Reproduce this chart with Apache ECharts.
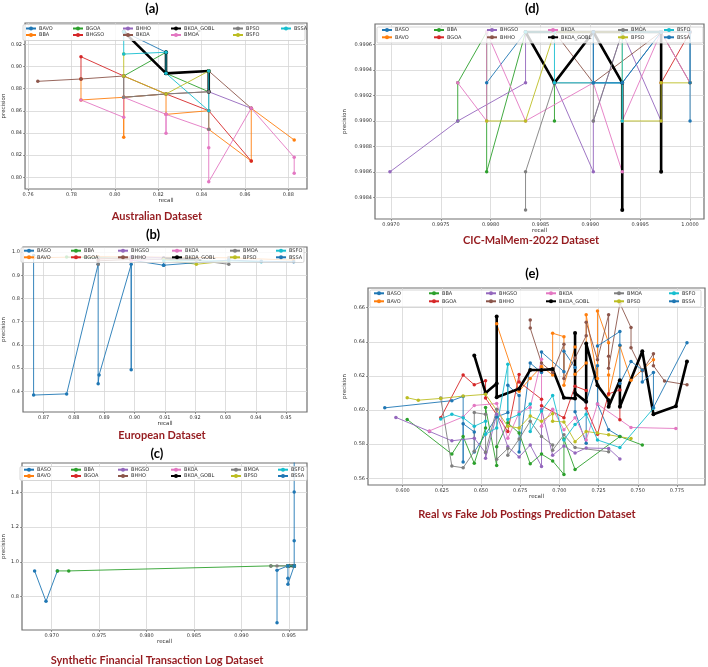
<!DOCTYPE html>
<html>
<head>
<meta charset="utf-8">
<script src="https://cdn.jsdelivr.net/npm/echarts@6.0.0/dist/echarts.min.js"></script>
<style>
html, body { margin: 0; padding: 0; background: #fff; }
#main { width: 708px; height: 667px; }
</style>
</head>
<body>
<div id="main"></div>
<script>
// legend names, in the order the lines were plotted
var namesA = ['BAVO', 'BBA', 'BGOA', 'BHGSO', 'BHHO', 'BKOA', 'BKOA_GOBL', 'BMOA', 'BPSO', 'BSFO', 'BSSA'];
var namesB = ['BASO', 'BAVO', 'BBA', 'BGOA', 'BHGSO', 'BHHO', 'BKOA', 'BKOA_GOBL', 'BMOA', 'BPSO', 'BSFO', 'BSSA'];

// tick labels
var ticksAX = [0.76, 0.78, 0.80, 0.82, 0.84, 0.86, 0.88];
var ticksAY = [0.80, 0.82, 0.84, 0.86, 0.88, 0.90, 0.92];
var ticksBX = [0.87, 0.88, 0.89, 0.90, 0.91, 0.92, 0.93, 0.94, 0.95];
var ticksBY = [0.4, 0.5, 0.6, 0.7, 0.8, 0.9, 1.0];
var ticksCX = [0.970, 0.975, 0.980, 0.985, 0.990, 0.995];
var ticksCY = [0.8, 1.0, 1.2, 1.4];
var ticksDX = [0.9970, 0.9975, 0.9980, 0.9985, 0.9990, 0.9995, 1.0000];
var ticksDY = [0.9984, 0.9986, 0.9988, 0.9990, 0.9992, 0.9994, 0.9996];
var ticksEX = [0.600, 0.625, 0.650, 0.675, 0.700, 0.725, 0.750, 0.775];
var ticksEY = [0.56, 0.58, 0.60, 0.62, 0.64, 0.66];

// (a) Australian  [recall, precision]
var ausBAVO = [[0.8041, 0.9314], [0.8236, 0.9128], [0.8236, 0.8938]];
var ausBBA = [[0.7844, 0.8887], [0.7844, 0.8698], [0.8041, 0.8722], [0.8041, 0.8361], [0.8041, 0.8722], [0.8236, 0.8752], [0.8236, 0.8568], [0.8433, 0.8601], [0.8433, 0.8433], [0.8629, 0.8147], [0.8629, 0.8623], [0.8827, 0.8337]];
var ausBGOA = [[0.8041, 0.8914], [0.8236, 0.9128], [0.8236, 0.8938], [0.8433, 0.8772]];
var ausBHGSO = [[0.7844, 0.8887], [0.7844, 0.9088], [0.8041, 0.8914], [0.8236, 0.8752], [0.8433, 0.8601], [0.8629, 0.8147]];
var ausBHHO = [[0.8433, 0.8772], [0.8629, 0.8623]];
var ausBKOA = [[0.7645, 0.8866], [0.7844, 0.8887], [0.8041, 0.8914], [0.8041, 0.8722], [0.8236, 0.8752], [0.8433, 0.8772], [0.8433, 0.8959], [0.8629, 0.8623]];
var ausBKOA_GOBL = [[0.8041, 0.9314], [0.8236, 0.8938], [0.8236, 0.9128], [0.8236, 0.8938], [0.8433, 0.8959], [0.8433, 0.8772]];
var ausBMOA = [[0.7844, 0.8698], [0.8041, 0.8541], [0.8041, 0.8722], [0.8236, 0.8568], [0.8236, 0.8397], [0.8236, 0.8568], [0.8433, 0.8433], [0.8433, 0.8267], [0.8433, 0.796], [0.8629, 0.8623], [0.8827, 0.8181], [0.8827, 0.8036]];
var ausBPSO = [[0.8041, 0.8914], [0.8041, 0.8722], [0.8236, 0.8752], [0.8433, 0.8772], [0.8433, 0.8433]];
var ausBSFO = [[0.8041, 0.9112], [0.8041, 0.8914], [0.8236, 0.8752], [0.8433, 0.8959]];
var ausBSSA = [[0.8041, 0.9314], [0.8041, 0.9112], [0.8236, 0.9128], [0.8236, 0.8938], [0.8433, 0.8601], [0.8433, 0.8959]];

// (b) European
var eurBASO = [[0.8667, 0.985], [0.8667, 0.384], [0.8776, 0.389], [0.888, 0.947], [0.888, 0.433], [0.8883, 0.47], [0.8989, 0.947], [0.8989, 0.493], [0.8989, 0.965], [0.9096, 0.943], [0.9096, 0.97]];
var eurBAVO = [[0.8667, 0.975], [0.888, 0.98], [0.9311, 0.975], [0.9525, 0.965]];
var eurBBA = [[0.8776, 0.978], [0.888, 0.975], [0.8989, 0.972]];
var eurBGOA = [[0.888, 0.97], [0.8989, 0.975]];
var eurBHGSO = [[0.8989, 0.98], [0.9096, 0.975]];
var eurBHHO = [[0.888, 0.962], [0.8989, 0.968]];
var eurBKOA = [[0.8989, 0.963], [0.9096, 0.97]];
var eurBKOA_GOBL = [[0.9096, 0.972], [0.9204, 0.968]];
var eurBMOA = [[0.888, 0.947], [0.888, 0.975], [0.9204, 0.965], [0.9311, 0.947], [0.9311, 0.975]];
var eurBPSO = [[0.9096, 0.968], [0.9204, 0.947], [0.9311, 0.962]];
var eurBSFO = [[0.9096, 0.962], [0.9311, 0.962], [0.9418, 0.958]];
var eurBSSA = [[0.9096, 0.943], [0.9311, 0.965], [0.9418, 0.96], [0.9525, 0.958]];

// (c) Synthetic Financial Transaction Log
var synBASO = [[0.9682, 0.948], [0.9694, 0.773], [0.9706, 0.948]];
var synBAVO = [[0.9949, 0.977], [0.99556, 0.977]];
var synBBA = [[0.9706, 0.948], [0.9718, 0.948], [0.9931, 0.977], [0.9949, 0.977]];
var synBGOA = [[0.9949, 0.977], [0.99556, 0.977]];
var synBHGSO = [[0.9949, 0.977], [0.99556, 0.977]];
var synBHHO = [[0.9949, 0.977], [0.99556, 0.977]];
var synBKOA = [[0.9949, 0.977], [0.99556, 0.977]];
var synBKOA_GOBL = [[0.9949, 0.977], [0.99556, 0.977]];
var synBMOA = [[0.9931, 0.977], [0.99375, 0.977], [0.9949, 0.977]];
var synBPSO = [[0.9949, 0.977], [0.99556, 0.977]];
var synBSFO = [[0.9949, 0.977], [0.99556, 0.977]];
var synBSSA = [[0.99375, 0.65], [0.99375, 0.952], [0.9949, 0.977], [0.9949, 0.906], [0.9949, 0.871], [0.99556, 0.977], [0.99556, 1.121], [0.99556, 1.402], [0.99556, 1.62]];

// (d) CIC-MalMem-2022
var cicBASO = [[0.99796, 0.9993], [0.99835, 0.9997], [0.99903, 0.9997], [0.99903, 0.9993], [0.99932, 0.9993], [0.99971, 0.9997], [1.0, 0.9997], [1.0, 0.9990]];
var cicBAVO = [[0.99932, 0.9997], [1.0, 0.9997]];
var cicBBA = [[0.99767, 0.9990], [0.99767, 0.9993], [0.99796, 0.9997], [0.99796, 0.9986], [0.99835, 0.9997], [0.99864, 0.9993], [0.99864, 0.9990]];
var cicBGOA = [[0.99971, 0.9993], [1.0, 0.9997]];
var cicBHGSO = [[0.99699, 0.9986], [0.99767, 0.9990], [0.99835, 0.9993], [0.99835, 0.9997], [0.99864, 0.9993], [0.99903, 0.9986], [0.99903, 0.9990], [0.99932, 0.9997], [0.99971, 0.9990]];
var cicBHHO = [[0.99864, 0.9997], [0.99903, 0.9993], [0.99971, 0.9997], [1.0, 0.9993]];
var cicBKOA = [[0.99767, 0.9993], [0.99796, 0.9990], [0.99796, 0.9997], [0.99835, 0.9990], [0.99903, 0.9993], [0.99932, 0.9986], [0.99932, 0.9990], [0.99971, 0.9997], [1.0, 0.9993]];
var cicBKOA_GOBL = [[0.99971, 0.9986], [0.99971, 0.9997], [0.99835, 0.9997], [0.99864, 0.9993], [0.99903, 0.9997], [0.99932, 0.9993], [0.99932, 0.9983]];
var cicBMOA = [[0.99835, 0.9983], [0.99835, 0.9986], [0.99864, 0.9993], [0.99903, 0.9993], [0.99903, 0.9990], [0.99932, 0.9997], [0.99971, 0.9997]];
var cicBPSO = [[0.99796, 0.9990], [0.99835, 0.9990], [0.99864, 0.9997], [0.99932, 0.9997], [0.99932, 0.9990], [0.99971, 0.9990], [0.99971, 0.9993], [1.0, 0.9993]];
var cicBSFO = [[0.99835, 0.9997], [0.99864, 0.9997], [0.99864, 0.9993], [0.99903, 0.9993], [0.99932, 0.9993], [0.99932, 0.9990], [0.99932, 0.9997], [0.99971, 0.9997]];
var cicBSSA = [[0.99903, 0.9997], [0.99903, 0.9993], [0.99932, 0.9993], [0.99971, 0.9997], [1.0, 0.9997], [1.0, 0.9993]];

// (e) Real vs Fake Job Postings
var jobBASO = [[0.5886, 0.6013], [0.6314, 0.6055], [0.6386, 0.608], [0.6386, 0.5695], [0.6386, 0.592], [0.6457, 0.5872], [0.6457, 0.5755], [0.66, 0.596], [0.6671, 0.5985], [0.6671, 0.6145], [0.6743, 0.6085], [0.6743, 0.5755], [0.6814, 0.6275], [0.6886, 0.622], [0.6886, 0.634], [0.7029, 0.6225], [0.7029, 0.6345], [0.71, 0.625], [0.71, 0.599], [0.7171, 0.5805], [0.7171, 0.605], [0.7243, 0.626], [0.7243, 0.6035], [0.7314, 0.5885], [0.7386, 0.5845]];
var jobBAVO = [[0.66, 0.6505], [0.6743, 0.611], [0.6814, 0.6185], [0.6886, 0.6255], [0.6957, 0.6205], [0.6957, 0.645], [0.7029, 0.643], [0.7029, 0.6145], [0.71, 0.637], [0.71, 0.621], [0.7171, 0.6275], [0.7171, 0.6558], [0.7243, 0.6185], [0.7243, 0.658], [0.7314, 0.6395], [0.7314, 0.6205], [0.7314, 0.609], [0.7386, 0.6375], [0.7457, 0.6175], [0.7529, 0.6235], [0.76, 0.6295]];
var jobBBA = [[0.6029, 0.5945], [0.6314, 0.5742], [0.6386, 0.5845], [0.6457, 0.5688], [0.6529, 0.5895], [0.6529, 0.6015], [0.66, 0.5675], [0.66, 0.5785], [0.6671, 0.5925], [0.6743, 0.5865], [0.6814, 0.5685], [0.6886, 0.5742], [0.6957, 0.5702], [0.7029, 0.5623], [0.7029, 0.583], [0.71, 0.5652], [0.7386, 0.5845], [0.7529, 0.5795]];
var jobBGOA = [[0.6243, 0.5955], [0.6386, 0.6205], [0.6457, 0.6148], [0.6529, 0.6172], [0.6529, 0.607], [0.6671, 0.5875], [0.6743, 0.6208], [0.6743, 0.6165], [0.6886, 0.6063], [0.6886, 0.6025], [0.7029, 0.5955], [0.71, 0.614], [0.7171, 0.6115], [0.7171, 0.601], [0.7243, 0.5858], [0.7314, 0.6095], [0.7386, 0.6118], [0.7386, 0.5943]];
var jobBHGSO = [[0.5957, 0.5957], [0.6171, 0.5875], [0.6314, 0.582], [0.6457, 0.5835], [0.6529, 0.575], [0.6529, 0.5718], [0.66, 0.5975], [0.6671, 0.5785], [0.6743, 0.5725], [0.6814, 0.5795], [0.6886, 0.567], [0.6886, 0.6005], [0.6957, 0.5735], [0.7029, 0.579], [0.71, 0.5748], [0.7171, 0.5778], [0.7314, 0.5775], [0.7386, 0.5714]];
var jobBHHO = [[0.6814, 0.6528], [0.6814, 0.648], [0.6886, 0.6275], [0.6957, 0.622], [0.7029, 0.6385], [0.7029, 0.6185], [0.71, 0.6305], [0.7171, 0.6435], [0.7171, 0.6515], [0.7243, 0.6295], [0.7314, 0.6558], [0.7314, 0.6315], [0.7314, 0.6245], [0.7386, 0.6625], [0.7457, 0.6483], [0.7457, 0.6365], [0.7529, 0.623], [0.76, 0.633], [0.76, 0.626], [0.7671, 0.617], [0.7814, 0.6148]];
var jobBKOA = [[0.6171, 0.5878], [0.6386, 0.596], [0.6457, 0.6027], [0.66, 0.6038], [0.6671, 0.5835], [0.6743, 0.5985], [0.6814, 0.6015], [0.6886, 0.6298], [0.6886, 0.5905], [0.6957, 0.6005], [0.7029, 0.5885], [0.71, 0.5955], [0.7171, 0.5825], [0.7243, 0.6035], [0.7457, 0.5898], [0.7743, 0.5892]];
var jobBKOA_GOBL = [[0.6457, 0.632], [0.6529, 0.610], [0.66, 0.6155], [0.66, 0.6548], [0.66, 0.6075], [0.6743, 0.6125], [0.6814, 0.6235], [0.6886, 0.6235], [0.6957, 0.624], [0.7029, 0.6072], [0.71, 0.6068], [0.71, 0.6452], [0.71, 0.610], [0.7171, 0.6048], [0.7171, 0.639], [0.7243, 0.6146], [0.7314, 0.6058], [0.7314, 0.602], [0.7386, 0.6175], [0.7386, 0.602], [0.7529, 0.6345], [0.76, 0.5975], [0.7743, 0.6022], [0.7814, 0.6285]];
var jobBMOA = [[0.6243, 0.607], [0.6314, 0.5672], [0.6386, 0.5662], [0.6457, 0.5758], [0.6457, 0.5985], [0.6529, 0.5975], [0.6529, 0.5755], [0.66, 0.6005], [0.66, 0.5712], [0.6671, 0.5775], [0.6671, 0.5735], [0.6743, 0.583], [0.6814, 0.5935], [0.6886, 0.5845], [0.6957, 0.5795], [0.6957, 0.5765], [0.7029, 0.5855], [0.71, 0.578], [0.7314, 0.5756]];
var jobBPSO = [[0.6029, 0.6072], [0.61, 0.6058], [0.6243, 0.6068], [0.6386, 0.6082], [0.6529, 0.6092], [0.6671, 0.5905], [0.6743, 0.5895], [0.6814, 0.5965], [0.6886, 0.5935], [0.6957, 0.5978], [0.6957, 0.5935], [0.7029, 0.593], [0.71, 0.5815], [0.7171, 0.5875], [0.7243, 0.5865], [0.7314, 0.5855], [0.7457, 0.5833]];
var jobBSFO = [[0.6243, 0.5948], [0.6314, 0.5975], [0.6386, 0.5955], [0.6457, 0.5905], [0.6529, 0.5935], [0.6529, 0.5858], [0.66, 0.5895], [0.6671, 0.6268], [0.6671, 0.5945], [0.6743, 0.5975], [0.6814, 0.6035], [0.6814, 0.5875], [0.6886, 0.5995], [0.6957, 0.6085], [0.7029, 0.5825], [0.71, 0.5915], [0.7171, 0.5975], [0.7243, 0.5825], [0.7386, 0.578], [0.76, 0.601]];
var jobBSSA = [[0.7243, 0.6375], [0.7386, 0.646], [0.7386, 0.638], [0.7386, 0.6155], [0.7457, 0.6285], [0.7529, 0.6235], [0.7529, 0.6165], [0.76, 0.622], [0.76, 0.6015], [0.7814, 0.6395]];

var palette = ['#1f77b4', '#ff7f0e', '#2ca02c', '#d62728', '#9467bd', '#8c564b', '#e377c2', '#7f7f7f', '#bcbd22', '#17becf'];

// the black line was given its own colour, so it does not use up a cycle colour
function colorsFor(names) {
    var out = {};
    var k = 0;
    names.forEach(function (n) {
        if (n == 'BKOA_GOBL') {
            out[n] = '#000000';
            return;
        }
        out[n] = palette[k % palette.length];
        k++;
    });
    return out;
}

var panels = [{
    key: 'a', names: namesA,
    data: { BAVO: ausBAVO, BBA: ausBBA, BGOA: ausBGOA, BHGSO: ausBHGSO, BHHO: ausBHHO, BKOA: ausBKOA, BKOA_GOBL: ausBKOA_GOBL, BMOA: ausBMOA, BPSO: ausBPSO, BSFO: ausBSFO, BSSA: ausBSSA },
    grid: { left: 21, top: 23, width: 286, height: 166 },
    x: [0.7586, 0.8886], y: [0.7895, 0.9392], xt: ticksAX, yt: ticksAY, xd: 2, yd: 2, yGap: 16,
    legX: [25, 72, 122, 170, 232, 280], legY: [29.5, 36], frame: [23, 24.5, 282, 16],
    tag: '(a)', tagPos: [152, 9], title: 'Australian Dataset', titlePos: [157, 216]
}, {
    key: 'b', names: namesB,
    data: { BASO: eurBASO, BAVO: eurBAVO, BBA: eurBBA, BGOA: eurBGOA, BHGSO: eurBHGSO, BHHO: eurBHHO, BKOA: eurBKOA, BKOA_GOBL: eurBKOA_GOBL, BMOA: eurBMOA, BPSO: eurBPSO, BSFO: eurBSFO, BSSA: eurBSSA },
    grid: { left: 21, top: 247, width: 286, height: 165 },
    x: [0.8632, 0.9569], y: [0.311, 1.0215], xt: ticksBX, yt: ticksBY, xd: 2, yd: 1, yGap: 16,
    legX: [23, 70, 117, 171, 229, 275], legY: [251.7, 258.3], frame: [21, 247.5, 283, 15],
    tag: '(b)', tagPos: [153, 235], title: 'European Dataset', titlePos: [162, 435]
}, {
    key: 'c', names: namesB,
    data: { BASO: synBASO, BAVO: synBAVO, BBA: synBBA, BGOA: synBGOA, BHGSO: synBHGSO, BHHO: synBHHO, BKOA: synBKOA, BKOA_GOBL: synBKOA_GOBL, BMOA: synBMOA, BPSO: synBPSO, BSFO: synBSFO, BSSA: synBSSA },
    grid: { left: 19, top: 463, width: 288, height: 167 },
    x: [0.96687, 0.99691], y: [0.608, 1.569], xt: ticksCX, yt: ticksCY, xd: 3, yd: 1, yGap: 15,
    legX: [23, 70, 117, 170, 230, 277], legY: [470.7, 477], frame: [20, 466.5, 287, 14],
    tag: '(c)', tagPos: [157, 454], title: 'Synthetic Financial Transaction Log Dataset', titlePos: [157, 660]
}, {
    key: 'd', names: namesB,
    data: { BASO: cicBASO, BAVO: cicBAVO, BBA: cicBBA, BGOA: cicBGOA, BHGSO: cicBHGSO, BHHO: cicBHHO, BKOA: cicBKOA, BKOA_GOBL: cicBKOA_GOBL, BMOA: cicBMOA, BPSO: cicBPSO, BSFO: cicBSFO, BSSA: cicBSSA },
    grid: { left: 375, top: 24, width: 329, height: 195 },
    x: [0.99684, 1.00014], y: [0.998229, 0.999763], xt: ticksDX, yt: ticksDY, xd: 4, yd: 4, yGap: 27,
    legX: [381, 433, 486, 547, 617, 663], legY: [31, 38.3], frame: [377, 27, 326, 16],
    tag: '(d)', tagPos: [532, 9], title: 'CIC-MalMem-2022 Dataset', titlePos: [531, 240]
}, {
    key: 'e', names: namesB,
    data: { BASO: jobBASO, BAVO: jobBAVO, BBA: jobBBA, BGOA: jobBGOA, BHGSO: jobBHGSO, BHHO: jobBHHO, BKOA: jobBKOA, BKOA_GOBL: jobBKOA_GOBL, BMOA: jobBMOA, BPSO: jobBPSO, BSFO: jobBSFO, BSSA: jobBSSA },
    grid: { left: 368, top: 288, width: 337, height: 197 },
    x: [0.5779, 0.7929], y: [0.5561, 0.6715], xt: ticksEX, yt: ticksEY, xd: 3, yd: 2, yGap: 20,
    legX: [373, 428, 485, 545, 613, 668], legY: [294.3, 302.3], frame: [370, 290, 331, 17],
    tag: '(e)', tagPos: [532, 274], title: 'Real vs Fake Job Postings Prediction Dataset', titlePos: [527, 514]
}];

var tickFont = 'DejaVu Sans';
var grids = [], xAxes = [], yAxes = [], series = [], legends = [], graphics = [];

function stripKey(name) {
    return name.split(':')[1];
}

panels.forEach(function (p, i) {
    var colors = colorsFor(p.names);
    grids.push({
        left: p.grid.left, top: p.grid.top, width: p.grid.width, height: p.grid.height,
        show: true, borderColor: '#707070', borderWidth: 1.2, backgroundColor: '#fff', containLabel: false
    });
    xAxes.push({
        gridIndex: i, type: 'value', min: p.x[0], max: p.x[1],
        name: 'recall', nameLocation: 'middle', nameGap: 9,
        nameTextStyle: { fontSize: 5.5, color: '#333', fontFamily: tickFont },
        axisLine: { show: false },
        axisTick: { show: true, length: 2, customValues: p.xt, lineStyle: { color: '#555', width: 0.6 } },
        axisLabel: {
            customValues: p.xt, fontSize: 5, color: '#333', margin: 3, fontFamily: tickFont,
            formatter: function (v) { return v.toFixed(p.xd); }
        },
        splitLine: { show: true, lineStyle: { color: '#d6d6d6', width: 0.8 } }
    });
    yAxes.push({
        gridIndex: i, type: 'value', min: p.y[0], max: p.y[1],
        name: 'precision', nameLocation: 'middle', nameGap: p.yGap, nameRotate: 90,
        nameTextStyle: { fontSize: 5.5, color: '#333', fontFamily: tickFont },
        axisLine: { show: false },
        axisTick: { show: true, length: 2, customValues: p.yt, lineStyle: { color: '#555', width: 0.6 } },
        axisLabel: {
            customValues: p.yt, fontSize: 5, color: '#333', margin: 3, fontFamily: tickFont,
            formatter: function (v) { return v.toFixed(p.yd); }
        },
        splitLine: { show: true, lineStyle: { color: '#d6d6d6', width: 0.8 } }
    });

    p.names.forEach(function (n, j) {
        var gobl = n == 'BKOA_GOBL';
        series.push({
            type: 'line', name: p.key + ':' + n, xAxisIndex: i, yAxisIndex: i,
            data: p.data[n], symbol: 'circle', symbolSize: gobl ? 4 : 3.5, showSymbol: true,
            lineStyle: { color: colors[n], width: gobl ? 2.6 : 0.9 },
            itemStyle: { color: colors[n] },
            emphasis: { disabled: true }, animation: false, clip: true, z: 2
        });
        // matplotlib legend fills columns first, two rows
        var col = Math.floor(j / 2), row = j % 2;
        legends.push({
            data: [p.key + ':' + n], left: p.legX[col], top: p.legY[row] - 3.5,
            padding: 0, itemWidth: 10, itemHeight: 5, itemGap: 0, selectedMode: false,
            formatter: stripKey, z: 5,
            textStyle: { fontSize: 5, color: '#333', fontFamily: tickFont, padding: [0, 0, 0, -2] }
        });
    });

    // legend frame
    graphics.push({
        type: 'rect', z: 4, silent: true,
        shape: { x: p.frame[0], y: p.frame[1], width: p.frame[2], height: p.frame[3], r: 1.5 },
        style: { fill: 'rgba(255,255,255,0.8)', stroke: '#cccccc', lineWidth: 0.8 }
    });
    graphics.push({
        type: 'text', z: 5, silent: true, x: p.tagPos[0], y: p.tagPos[1],
        style: { text: p.tag, fontSize: 13, fontWeight: 'bold', fontFamily: 'Lato', fill: '#000', align: 'center', verticalAlign: 'middle' }
    });
    graphics.push({
        type: 'text', z: 5, silent: true, x: p.titlePos[0], y: p.titlePos[1],
        style: { text: p.title, fontSize: 11, fontWeight: 'bold', fontFamily: 'Lato', fill: '#951b1f', align: 'center', verticalAlign: 'middle' }
    });
});

var myChart = echarts.init(document.getElementById('main'));
myChart.setOption({
    backgroundColor: '#fff',
    animation: false,
    grid: grids,
    xAxis: xAxes,
    yAxis: yAxes,
    legend: legends,
    series: series,
    graphic: graphics
});
</script>
</body>
</html>
